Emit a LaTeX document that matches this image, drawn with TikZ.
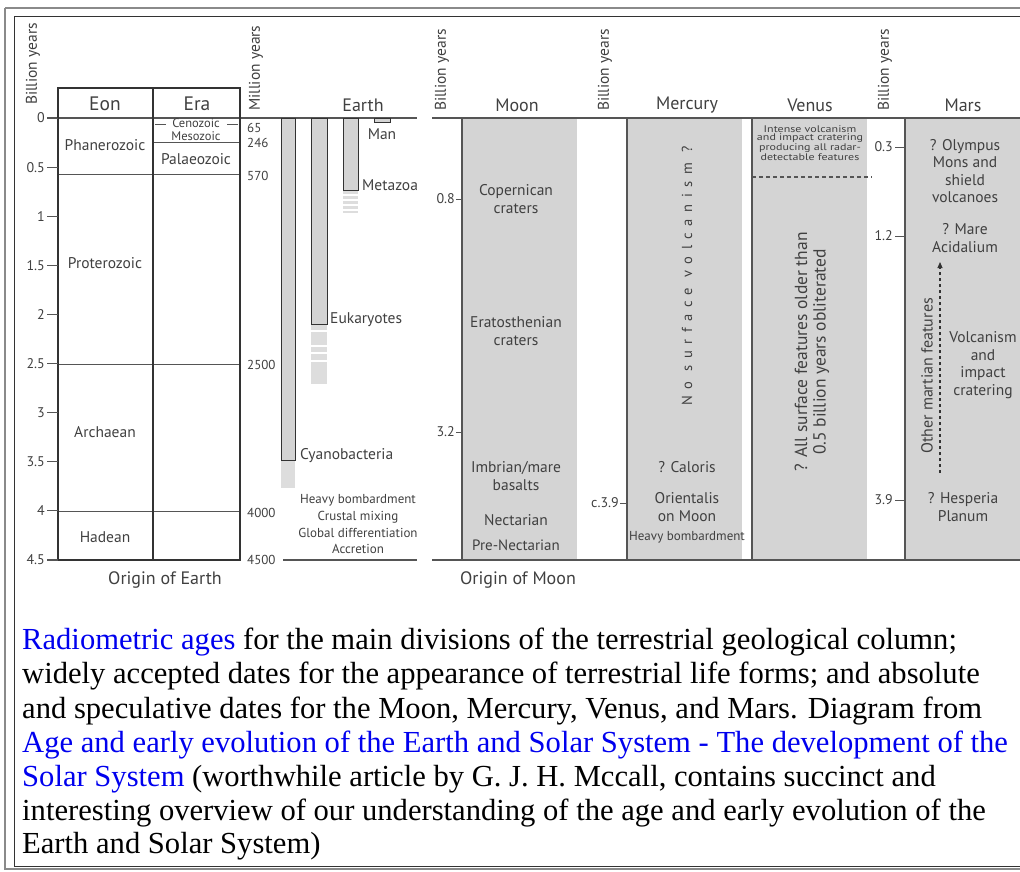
\documentclass[tikz,border=0pt]{standalone}
\usepackage{fontspec}
\setmainfont{Liberation Serif}
\newfontfamily\dfont{PT Sans}
\usetikzlibrary{arrows.meta}
\definecolor{tx}{HTML}{404040}
\definecolor{ln}{HTML}{555555}
\definecolor{dk}{HTML}{333333}
\definecolor{gf}{HTML}{D4D4D4}
\definecolor{gl}{HTML}{DDDDDD}
\definecolor{lk}{HTML}{0000EE}
\definecolor{fr}{HTML}{8A8A8A}
\tikzset{
  lb/.style={font=\dfont\fontsize{15.5}{17.5}\selectfont, text=tx, inner sep=0pt, align=center},
  ml/.style={font=\dfont\fontsize{15}{17.5}\selectfont, text=tx, inner sep=0pt, align=center},
  hd/.style={font=\dfont\fontsize{18}{20}\selectfont, text=tx, inner sep=0pt},
  ax/.style={font=\dfont\fontsize{14}{16}\selectfont, text=tx, inner sep=0pt},
  by/.style={font=\dfont\fontsize{15.5}{17}\selectfont, text=tx, inner sep=0pt, rotate=90},
  sm/.style={font=\dfont\fontsize{13}{15}\selectfont, text=tx, inner sep=0pt},
  tn/.style={font=\dfont\fontsize{12}{10.4}\selectfont, text=tx, inner sep=0pt, align=center, yscale=0.8},
  orig/.style={font=\dfont\fontsize{18}{20}\selectfont, text=tx, inner sep=0pt},
  thinln/.style={draw=ln, line width=0.9pt},
  boldln/.style={draw=dk, line width=1.8pt},
  edge/.style={draw=ln, line width=1.4pt},
  bar/.style={fill=gf, draw=dk, line width=0.9pt},
  capline/.style={font=\fontsize{30.6}{34}\selectfont, inner sep=0pt, anchor=base west},
}
\begin{document}
\begin{tikzpicture}[x=1pt,y=-1pt]
\useasboundingbox (0,0) rectangle (1020,871);
% frame
\draw[fr, line width=1.2pt] (5,8) -- (1025,8);
\draw[fr, line width=1.2pt] (5,8) -- (5,869) -- (1025,869);
\draw[dk, line width=1pt] (14,16) -- (1025,16);
\draw[dk, line width=1pt] (14,16) -- (14,866) -- (1025,866);

% ---------- gray columns ----------
\fill[gf] (462,118) rectangle (577,560);
\fill[gf] (627,118) rectangle (742,560);
\fill[gf] (752,118) rectangle (867,560);
\fill[gf] (905,118) rectangle (1020,560);
\draw[edge] (462,118) -- (462,560);
\draw[edge] (627,118) -- (627,560);
\draw[edge] (752,118) -- (752,560);
\draw[edge] (905,118) -- (905,560);
\draw[thinln, line width=1.3pt] (432,118) -- (1020,118);
\draw[thinln, line width=1.3pt] (432,560) -- (1020,560);

% ---------- Eon / Era table ----------
\draw[thinln, line width=1.3pt] (47,118) -- (417,118);
\draw[thinln] (58,174) -- (240,174);
\draw[thinln] (153,142) -- (240,142);
\draw[thinln] (58,364) -- (240,364);
\draw[thinln] (58,511) -- (240,511);
\draw[thinln] (155,124) -- (166,124);
\draw[thinln] (227,124) -- (238,124);
\draw[boldln] (58,88) rectangle (240,560);
\draw[boldln] (153,88) -- (153,560);
\draw[thinln, line width=1.3pt] (47,560) -- (58,560);

\node[hd, font=\dfont\fontsize{19.5}{21}\selectfont] (eon) at (105,104) {Eon};
\node[hd, font=\dfont\fontsize{19.5}{21}\selectfont] (era) at (197,104) {Era};
\node[lb] (phan) at (105,145) {Phanerozoic};
\node[lb] (prot) at (105,263) {Proterozoic};
\node[lb] (arch) at (105,432) {Archaean};
\node[lb] (hade) at (105,537) {Hadean};
\node[sm, font=\dfont\fontsize{12.5}{14}\selectfont] (ceno) at (196,123) {Cenozoic};
\node[sm, font=\dfont\fontsize{12.5}{14}\selectfont] (meso) at (196,136) {Mesozoic};
\node[lb] (pala) at (196,159) {Palaeozoic};
\node[orig] (oear) at (165,580) {Origin of Earth};
\node[by] (by1) at (33,64) {Billion years};

\foreach \v/\t [count=\i] in {0/0,0.5/0.5,1/1,1.5/1.5,2/2,2.5/2.5,3/3,3.5/3.5,4/4,4.5/4.5}{
  \pgfmathsetmacro{\yy}{118+98.2*\v}
  \node[ax, anchor=east] (t\i) at (45,\yy) {\t};
  \draw[thinln] (47,\yy) -- (58,\yy);
}

% ---------- Earth ----------
\node[by] (my) at (256,68) {Million years};
\node[sm, anchor=west] (m65) at (247,128) {65};
\node[sm, anchor=west] (m246) at (247,143) {246};
\node[sm, anchor=west] (m570) at (247,176) {570};
\node[sm, anchor=west] (m2500) at (247,365) {2500};
\node[sm, anchor=west] (m4000) at (247,513) {4000};
\node[sm, anchor=west] (m4500) at (247,560) {4500};
\draw[thinln, line width=1.3pt] (283,560) -- (417,560);
\node[hd] (earth) at (363,105) {Earth};

% Cyanobacteria
\fill[gl] (281,460) rectangle (295,488);
\draw[bar] (281,118) rectangle (295,460);
\node[lb, anchor=west] (cyan) at (300,456) {Cyanobacteria};
% Eukaryotes
\fill[gl] (311,324) rectangle (327,384);
\foreach \s in {331,346,353,361}{\draw[white, line width=1.2pt] (311,\s) -- (327,\s);}
\draw[bar] (311,118) rectangle (327,324);
\node[lb, anchor=west] (euk) at (330,320) {Eukaryotes};
% Metazoa
\fill[gl] (343,190) rectangle (358,213);
\foreach \s in {195,200,205,210}{\draw[white, line width=1.2pt] (343,\s) -- (358,\s);}
\draw[bar] (343,118) rectangle (358,190);
\node[lb, anchor=west] (meta) at (362,185) {Metazoa};
% Man
\draw[bar] (374,118) rectangle (390,122);
\node[lb] (man) at (382,134) {Man};

\node[sm] (hb1) at (358,500) {Heavy bombardment};
\node[sm] (cm) at (358,517) {Crustal mixing};
\node[sm] (gd) at (358,533) {Global differentiation};
\node[sm] (acc) at (358,549) {Accretion};

% ---------- Moon ----------
\node[by] (by2) at (442,70) {Billion years};
\node[hd] (moon) at (517,105) {Moon};
\node[ax, anchor=east] (m08) at (455,199) {0.8};
\draw[thinln] (456,199) -- (462,199);
\node[ax, anchor=east] (m32) at (455,432) {3.2};
\draw[thinln] (456,432) -- (462,432);
\node[lb] (cop) at (516,199) {Copernican\\craters};
\node[lb] (era2) at (516,331) {Eratosthenian\\craters};
\node[lb] (imb) at (516,476) {Imbrian/mare\\basalts};
\node[lb] (nec) at (516,520) {Nectarian};
\node[ml] (pnec) at (516,545) {Pre-Nectarian};
\node[orig] (omoon) at (518,580) {Origin of Moon};

% ---------- Mercury ----------
\node[by] (by3) at (605,70) {Billion years};
\node[ax, anchor=east] (c39) at (619,503) {c.3.9};
\draw[thinln] (620,503) -- (627,503);
\node[hd] (merc) at (687,105) {Mercury};
\node[lb, rotate=90, font=\dfont\fontsize{14.5}{15}\selectfont\addfontfeature{LetterSpace=45}] (nsv) at (687,276) {No surface volcanism ?};
\node[lb] (cal) at (687,467) {? Caloris};
\node[lb] (ori) at (687,507) {Orientalis\\on Moon};
\node[sm] (hb2) at (687,537) {Heavy bombardment};

% ---------- Venus ----------
\node[hd] (venus) at (810,105) {Venus};
\node[tn] (ivol) at (810,143) {Intense volcanism\\and impact cratering\\producing all radar-\\detectable features};
\draw[ln, line width=1.2pt, dash pattern=on 4pt off 3pt] (752,177) -- (872,177);
\node[lb, rotate=90, font=\dfont\fontsize{17.5}{18.5}\selectfont] (allsf) at (812,352) {? All surface features older than\\0.5 billion years obliterated};

% ---------- Mars ----------
\node[by] (by4) at (885,70) {Billion years};
\node[hd] (mars) at (963,105) {Mars};
\node[ax, anchor=east] (r03) at (893,147) {0.3};
\draw[thinln] (895,147) -- (905,147);
\node[ax, anchor=east] (r12) at (893,236) {1.2};
\draw[thinln] (895,236) -- (905,236);
\node[ax, anchor=east] (r39) at (893,500) {3.9};
\draw[thinln] (895,500) -- (905,500);
\node[lb] (oly) at (965,171) {? Olympus\\Mons and\\shield\\volcanoes};
\node[lb] (mare) at (965,238) {? Mare\\Acidalium};
\node[lb] (volc) at (983,365) {Volcanism\\and\\impact\\cratering};
\node[lb] (hesp) at (963,507) {? Hesperia\\Planum};
\node[lb, rotate=90, font=\dfont\fontsize{16}{18}\selectfont] (omf) at (927,376) {Other martian features};
\coordinate (arB) at (940,473);
\coordinate (arT) at (940,262);
\draw[dk, line width=1.1pt, dash pattern=on 3pt off 3pt, -{Triangle[length=6pt,width=5pt]}] (arB) -- (arT);

% ---------- caption ----------
\node[capline] (c1) at (22,649) {{\color{lk}Radiometric ages} for the main divisions of the terrestrial geological column;};
\node[capline] (c2) at (22,683) {widely accepted dates for the appearance of terrestrial life forms; and absolute};
\node[capline] (c3) at (22,718) {and speculative dates for the Moon, Mercury, Venus, and Mars. Diagram from};
\node[capline, text=lk] (c4) at (22,752) {Age and early evolution of the Earth and Solar System - The development of the};
\node[capline] (c5) at (22,786) {{\color{lk}Solar System} (worthwhile article by G. J. H. Mccall, contains succinct and};
\node[capline] (c6) at (22,820) {interesting overview of our understanding of the age and early evolution of the};
\node[capline] (c7) at (22,853) {Earth and Solar System)};
\end{tikzpicture}
\end{document}
